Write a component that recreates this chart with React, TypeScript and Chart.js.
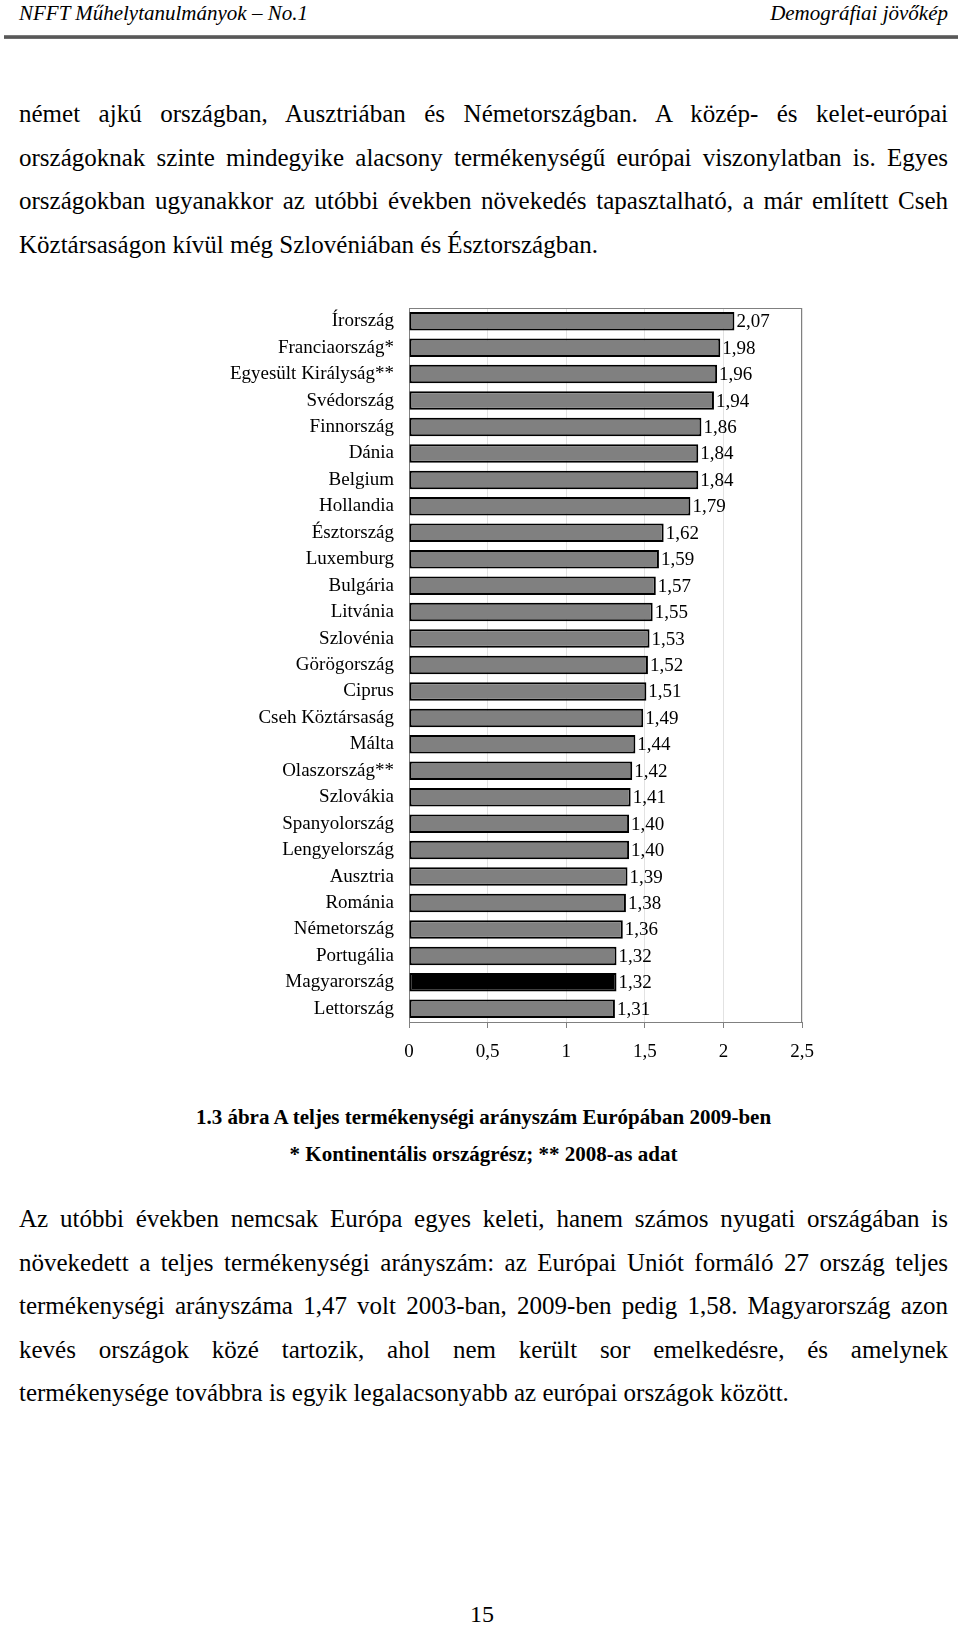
import React, { useEffect, useRef } from "react";
import { Chart, registerables } from "chart.js";

Chart.register(...registerables);

// ---------- data ----------
const countries = [
  "Írország",
  "Franciaország*",
  "Egyesült Királyság**",
  "Svédország",
  "Finnország",
  "Dánia",
  "Belgium",
  "Hollandia",
  "Észtország",
  "Luxemburg",
  "Bulgária",
  "Litvánia",
  "Szlovénia",
  "Görögország",
  "Ciprus",
  "Cseh Köztársaság",
  "Málta",
  "Olaszország**",
  "Szlovákia",
  "Spanyolország",
  "Lengyelország",
  "Ausztria",
  "Románia",
  "Németország",
  "Portugália",
  "Magyarország",
  "Lettország",
];

const tfr = [
  2.07, 1.98, 1.96, 1.94, 1.86, 1.84, 1.84, 1.79, 1.62, 1.59, 1.57, 1.55, 1.53,
  1.52, 1.51, 1.49, 1.44, 1.42, 1.41, 1.4, 1.4, 1.39, 1.38, 1.36, 1.32, 1.32,
  1.31,
];

const highlighted = "Magyarország";
const xTickValues = [0, 0.5, 1, 1.5, 2, 2.5];

const headerLeft = "NFFT Műhelytanulmányok – No.1";
const headerRight = "Demográfiai jövőkép";

const paragraph1 = [
  "német ajkú országban, Ausztriában és Németországban. A közép- és kelet-európai",
  "országoknak szinte mindegyike alacsony termékenységű európai viszonylatban is. Egyes",
  "országokban ugyanakkor az utóbbi években növekedés tapasztalható, a már említett Cseh",
  "Köztársaságon kívül még Szlovéniában és Észtországban.",
];

const captionLines = [
  "1.3 ábra A teljes termékenységi arányszám Európában 2009-ben",
  "* Kontinentális országrész; ** 2008-as adat",
];

const paragraph2 = [
  "Az utóbbi években nemcsak Európa egyes keleti, hanem számos nyugati országában is",
  "növekedett a teljes termékenységi arányszám: az Európai Uniót formáló 27 ország teljes",
  "termékenységi arányszáma 1,47 volt 2003-ban, 2009-ben pedig 1,58. Magyarország azon",
  "kevés országok közé tartozik, ahol nem került sor emelkedésre, és amelynek",
  "termékenysége továbbra is egyik legalacsonyabb az európai országok között.",
];

const pageNumber = "15";

// ---------- styling ----------
const SERIF = '"Liberation Serif", "Times New Roman", Times, serif';
const fmt = (v: number) => v.toFixed(2).replace(".", ",");

const CANVAS_W = 640;
const CANVAS_H = 790;

const framePlugin = {
  id: "frame",
  beforeDatasetsDraw(chart: any) {
    const { ctx, chartArea } = chart;
    ctx.save();
    ctx.strokeStyle = "#808080";
    ctx.lineWidth = 1;
    ctx.strokeRect(
      Math.round(chartArea.left) + 0.5,
      Math.round(chartArea.top) + 0.5,
      Math.round(chartArea.right - chartArea.left) - 1,
      Math.round(chartArea.bottom - chartArea.top)
    );
    ctx.restore();
  },
};

const valueLabelPlugin = {
  id: "valueLabels",
  afterDatasetsDraw(chart: any) {
    const { ctx } = chart;
    const meta = chart.getDatasetMeta(0);
    const values = chart.data.datasets[0].data as number[];
    ctx.save();
    ctx.font = `19px ${SERIF}`;
    ctx.fillStyle = "#000";
    ctx.textAlign = "left";
    ctx.textBaseline = "middle";
    meta.data.forEach((bar: any, i: number) => {
      ctx.fillText(fmt(values[i]), bar.x + 2, bar.y + 1);
    });
    ctx.restore();
  },
};

function TfrChart() {
  const ref = useRef<HTMLCanvasElement | null>(null);

  useEffect(() => {
    if (!ref.current) return;
    const chart = new Chart(ref.current, {
      type: "bar",
      data: {
        labels: countries,
        datasets: [
          {
            data: tfr,
            backgroundColor: countries.map((c) =>
              c === highlighted ? "#000000" : "#808080"
            ),
            borderColor: "#000000",
            borderWidth: 2,
            borderSkipped: false,
            barPercentage: 0.7,
            categoryPercentage: 1,
          },
        ],
      },
      options: {
        indexAxis: "y",
        responsive: false,
        animation: false,
        devicePixelRatio: 1,
        layout: { padding: { left: 0, right: 38, top: 18, bottom: 0 } },
        plugins: {
          legend: { display: false },
          tooltip: { enabled: false },
        },
        scales: {
          x: {
            type: "linear",
            min: 0,
            max: 2.5,
            afterBuildTicks: (axis: any) => {
              axis.ticks = xTickValues.map((v) => ({ value: v }));
            },
            afterFit: (axis: any) => {
              axis.height = 58;
              axis.paddingLeft = 0;
              axis.paddingRight = 0;
            },
            ticks: {
              font: { family: SERIF, size: 19 },
              color: "#000",
              padding: 13,
              maxRotation: 0,
              callback: (v: any) => String(v).replace(".", ","),
            },
            grid: {
              color: "#e2e2e2",
              lineWidth: 1,
              tickColor: "#808080",
              tickLength: 6,
              drawTicks: true,
            },
            border: { display: false },
          },
          y: {
            afterFit: (axis: any) => {
              axis.width = 209;
              axis.paddingTop = 0;
              axis.paddingBottom = 0;
            },
            ticks: {
              font: { family: SERIF, size: 19 },
              color: "#000",
              padding: 15,
              autoSkip: false,
            },
            grid: { display: false, drawTicks: false },
            border: { display: false },
          },
        },
      } as any,
      plugins: [framePlugin, valueLabelPlugin],
    });
    return () => chart.destroy();
  }, []);

  return (
    <canvas
      ref={ref}
      width={CANVAS_W}
      height={CANVAS_H}
      style={{
        position: "absolute",
        left: 200,
        top: 290,
        width: CANVAS_W,
        height: CANVAS_H,
        display: "block",
      }}
    />
  );
}

const TEXT_LEFT = 19;
const TEXT_WIDTH = 929;
const BODY_SIZE = 25;
const BODY_LH = 43.6;

function JustifiedParagraph({ lines, top }: { lines: string[]; top: number }) {
  return (
    <div
      style={{
        position: "absolute",
        left: TEXT_LEFT,
        top,
        width: TEXT_WIDTH,
        fontSize: BODY_SIZE,
        lineHeight: `${BODY_LH}px`,
      }}
    >
      {lines.map((ln, i) => (
        <div
          key={i}
          style={{
            textAlign: "justify",
            textAlignLast: i === lines.length - 1 ? "left" : "justify",
            whiteSpace: "nowrap",
            height: BODY_LH,
          }}
        >
          {ln}
        </div>
      ))}
    </div>
  );
}

export default function App() {
  return (
    <div
      style={{
        position: "absolute",
        left: 0,
        top: 0,
        width: 960,
        height: 1626,
        background: "#fff",
        color: "#000",
        fontFamily: SERIF,
        overflow: "hidden",
      }}
    >
      {/* header */}
      <div
        style={{
          position: "absolute",
          left: TEXT_LEFT,
          top: 0,
          width: TEXT_WIDTH,
          height: 26,
          lineHeight: "26px",
          fontSize: 21,
          fontStyle: "italic",
          display: "flex",
          justifyContent: "space-between",
        }}
      >
        <span>{headerLeft}</span>
        <span>{headerRight}</span>
      </div>
      <div
        style={{
          position: "absolute",
          left: 4,
          top: 35,
          width: 954,
          height: 4,
          background: "linear-gradient(to bottom, #8a8a8a, #4a4a4a 50%, #7a7a7a)",
        }}
      />

      <JustifiedParagraph lines={paragraph1} top={92} />

      <TfrChart />

      {/* caption */}
      <div
        style={{
          position: "absolute",
          left: TEXT_LEFT,
          top: 1099,
          width: TEXT_WIDTH,
          textAlign: "center",
          fontWeight: "bold",
          fontSize: 21,
          lineHeight: "37.4px",
        }}
      >
        {captionLines.map((c, i) => (
          <div key={i}>{c}</div>
        ))}
      </div>

      <JustifiedParagraph lines={paragraph2} top={1197} />

      <div
        style={{
          position: "absolute",
          left: 0,
          top: 1600,
          width: 964,
          textAlign: "center",
          fontSize: 24,
          lineHeight: "28px",
        }}
      >
        {pageNumber}
      </div>
    </div>
  );
}
